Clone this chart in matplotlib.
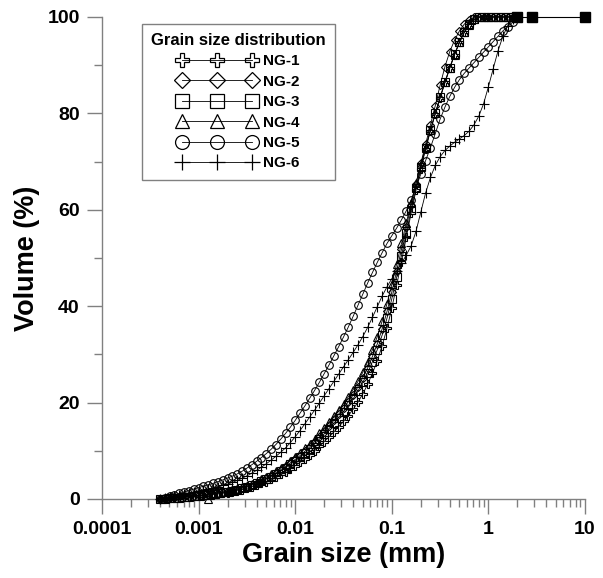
import numpy as np
import matplotlib
matplotlib.use('Agg')
import matplotlib.pyplot as plt
from matplotlib.lines import Line2D
from matplotlib.ticker import FixedLocator, MultipleLocator, LogLocator, NullFormatter

plt.rcParams['font.family'] = ['Liberation Sans', 'DejaVu Sans']
plt.rcParams['font.weight'] = 'bold'

# laser diffraction size classes (um)
size_um = [0.399, 0.448, 0.502, 0.564, 0.632, 0.710, 0.796, 0.893, 1.002, 1.125,
           1.262, 1.416, 1.589, 1.783, 2.000, 2.244, 2.518, 2.825, 3.170, 3.557,
           3.991, 4.477, 5.024, 5.637, 6.325, 7.096, 7.962, 8.934, 10.02, 11.25,
           12.62, 14.16, 15.89, 17.83, 20.00, 22.44, 25.18, 28.25, 31.70, 35.57,
           39.91, 44.77, 50.24, 56.37, 63.25, 70.96, 79.62, 89.34, 100.2, 112.5,
           126.2, 141.6, 158.9, 178.3, 200.0, 224.4, 251.8, 282.5, 317.0, 355.7,
           399.1, 447.7, 502.4, 563.7, 632.5, 709.6, 796.2, 893.4, 1002, 1125,
           1262, 1416, 1589, 1783, 2000]

nan = np.nan
ng1 = [0.0, 0.05, 0.11, 0.18, 0.26, 0.34, 0.43, 0.52, 0.61, 0.71,
       0.82, 0.93, 1.05, 1.18, 1.32, 1.50, 1.71, 1.95, 2.22, 2.52,
       2.85, 3.22, 3.62, 4.08, 4.60, 5.13, 5.70, 6.3, 6.9, 7.6,
       8.3, 9.1, 10.0, 10.9, 11.9, 12.9, 13.9, 15.0, 16.1, 17.3,
       18.6, 20.1, 21.8, 23.8, 26.1, 28.7, 31.8, 35.4, 39.6, 44.3,
       49.2, 54.3, 59.3, 64.0, 68.5, 72.6, 76.4, 79.9, 83.2, 86.4,
       89.4, 92.2, 94.7, 96.8, 98.4, 99.4, 99.9, 100, 100, 100,
       100, 100, 100, 100, 100]
ng2 = [0.0, 0.06, 0.14, 0.22, 0.31, 0.41, 0.51, 0.61, 0.73, 0.84,
       0.97, 1.10, 1.25, 1.40, 1.57, 1.79, 2.04, 2.32, 2.64, 3.0,
       3.39, 3.83, 4.31, 4.85, 5.46, 6.08, 6.76, 7.5, 8.2, 9.0,
       9.9, 10.8, 11.9, 12.9, 14.0, 15.2, 16.3, 17.6, 18.8, 20.2,
       21.6, 23.3, 25.2, 27.2, 29.6, 32.2, 35.3, 38.9, 42.9, 47.3,
       51.8, 56.4, 61.0, 65.4, 69.6, 73.6, 77.6, 81.6, 85.8, 89.7,
       92.8, 95.2, 97.1, 98.5, 99.4, 99.9, 100, 100, 100, 100,
       100, 100, 100, 100, 100]
ng3 = [0.0, 0.06, 0.13, 0.21, 0.30, 0.39, 0.49, 0.59, 0.70, 0.81,
       0.93, 1.06, 1.20, 1.35, 1.51, 1.72, 1.96, 2.23, 2.54, 2.88,
       3.26, 3.68, 4.14, 4.66, 5.25, 5.85, 6.5, 7.2, 7.9, 8.7,
       9.5, 10.4, 11.4, 12.4, 13.5, 14.6, 15.7, 16.9, 18.1, 19.4,
       20.8, 22.4, 24.2, 26.2, 28.5, 31.0, 34.0, 37.5, 41.5, 46.0,
       50.5, 55.2, 60.0, 64.5, 68.8, 72.8, 76.5, 80.0, 83.3, 86.5,
       89.5, 92.3, 94.8, 96.9, 98.5, 99.5, 100, 100, 100, 100,
       100, 100, 100, 100, 100]
ng4 = [nan, nan, nan, nan, nan, nan, nan, nan, nan, nan,
       0.0, 1.15, 1.32, 1.49, 1.66, 1.89, 2.16, 2.45, 2.79, 3.17,
       3.59, 4.05, 4.55, 5.13, 5.78, 6.44, 7.15, 7.9, 8.7, 9.6,
       10.5, 11.5, 12.5, 13.6, 14.8, 16.0, 17.2, 18.5, 19.8, 21.2,
       22.7, 24.4, 26.3, 28.5, 31.0, 33.7, 36.9, 40.5, 44.5, 48.8,
       53.0, 57.3, 61.5, 65.5, 69.4, 73.0, 76.6, 80.0, 83.3, 86.4,
       89.4, 92.2, 94.7, 96.8, 98.4, 99.5, 100, 100, 100, 100,
       100, 100, 100, 100, 100]
ng5 = [0.0, 0.25, 0.55, 0.85, 1.15, 1.45, 1.75, 2.05, 2.35, 2.65,
       2.95, 3.25, 3.6, 3.95, 4.35, 4.75, 5.2, 5.75, 6.4, 7.1,
       7.8, 8.6, 9.4, 10.3, 11.3, 12.4, 13.6, 14.9, 16.3, 17.8,
       19.3, 20.9, 22.5, 24.2, 26.0, 27.8, 29.7, 31.6, 33.6, 35.7,
       37.9, 40.2, 42.5, 44.8, 47.0, 49.1, 51.1, 53.0, 54.6, 56.2,
       57.9, 59.8, 62.0, 64.6, 67.4, 70.2, 72.9, 75.8, 78.8, 81.3,
       83.5, 85.4, 87.0, 88.3, 89.4, 90.5, 91.6, 92.7, 93.8, 94.9,
       96.0, 97.1, 98.0, 98.9, 100]
ng6 = [0.0, 0.2, 0.4, 0.6, 0.8, 1.0, 1.2, 1.4, 1.6, 1.8,
       2.0, 2.25, 2.5, 2.8, 3.1, 3.45, 3.85, 4.3, 4.8, 5.35,
       5.95, 6.6, 7.3, 8.05, 8.85, 9.7, 10.6, 11.7, 12.9, 14.2,
       15.6, 17.0, 18.4, 19.9, 21.4, 22.9, 24.4, 25.9, 27.4, 28.9,
       30.4, 32.0, 33.7, 35.6, 37.7, 39.9, 42.1, 44.0, 45.7, 47.3,
       48.9, 50.6, 52.5, 55.5, 59.5, 63.5, 66.7, 69.2, 71.0, 72.3,
       73.2, 74.0, 74.7, 75.4, 76.3, 77.6, 79.4, 82.0, 85.5, 89.3,
       93.0, 96.0, 98.2, 99.5, 100]

# coarse sieve points at the end
tail_mm = [2.0, 2.83, 10.0]
tail_vol = [100, 100, 100]

names = ['NG-1', 'NG-2', 'NG-3', 'NG-4', 'NG-5', 'NG-6']
series = [ng1, ng2, ng3, ng4, ng5, ng6]
markers = ['P', 'D', 's', '^', 'o', '+']
msizes = [5.5, 4.5, 5.5, 5.5, 5.5, 6.5]
leg_sizes = [10, 8, 10, 10, 10, 12]

size_mm = np.array(size_um) / 1000.0

fig = plt.figure(figsize=(6.03, 5.78), dpi=100)
ax = fig.add_axes([0.169, 0.1367, 0.801, 0.834])

for vol, mk, ms in zip(series, markers, msizes):
    ax.plot(size_mm, vol, color='black', lw=0.6, marker=mk, ms=ms,
            mfc='none', mec='black', mew=0.8, clip_on=False, zorder=3)

ax.plot(tail_mm, tail_vol, color='black', lw=0.8, marker='s', ms=7,
        mfc='black', mec='black', clip_on=False, zorder=4)

ax.set_xscale('log')
ax.set_xlim(1e-4, 10)
ax.set_ylim(0, 100)

ax.xaxis.set_major_locator(FixedLocator([1e-4, 1e-3, 1e-2, 1e-1, 1, 10]))
ax.set_xticklabels(['0.0001', '0.001', '0.01', '0.1', '1', '10'])
ax.xaxis.set_minor_locator(LogLocator(base=10, subs=np.arange(2, 10)))
ax.xaxis.set_minor_formatter(NullFormatter())
ax.yaxis.set_major_locator(MultipleLocator(20))
ax.yaxis.set_minor_locator(MultipleLocator(10))

for side in ['top', 'right']:
    ax.spines[side].set_visible(False)
for side in ['left', 'bottom']:
    ax.spines[side].set_color('#808080')
    ax.spines[side].set_linewidth(1.0)

ax.tick_params(which='major', direction='out', length=11, width=1.0,
               color='#808080', labelsize=14, pad=5)
ax.tick_params(which='minor', direction='out', length=5.5, width=1.0,
               color='#808080')
for lab in ax.get_xticklabels() + ax.get_yticklabels():
    lab.set_fontweight('bold')

ax.set_xlabel('Grain size (mm)', fontsize=19.5, fontweight='bold', labelpad=3)
ax.set_ylabel('Volume (%)', fontsize=19.5, fontweight='bold', labelpad=5)

handles = [Line2D([], [], color='black', lw=0.6, marker=mk, ms=s,
                  mfc='none', mec='black', mew=0.9)
           for mk, s in zip(markers, leg_sizes)]
leg = ax.legend(handles, names, title='Grain size distribution',
                loc='upper left', bbox_to_anchor=(0.083, 0.986),
                borderaxespad=0, numpoints=3, handlelength=5.2,
                handletextpad=0.4, labelspacing=0.42, fontsize=11,
                title_fontproperties={'size': 12, 'weight': 'bold'},
                fancybox=False, framealpha=1, edgecolor='#808080',
                borderpad=0.6)
leg.get_frame().set_linewidth(1.0)
for t in leg.get_texts():
    t.set_fontweight('bold')

fig.savefig('out.png', dpi=100)
